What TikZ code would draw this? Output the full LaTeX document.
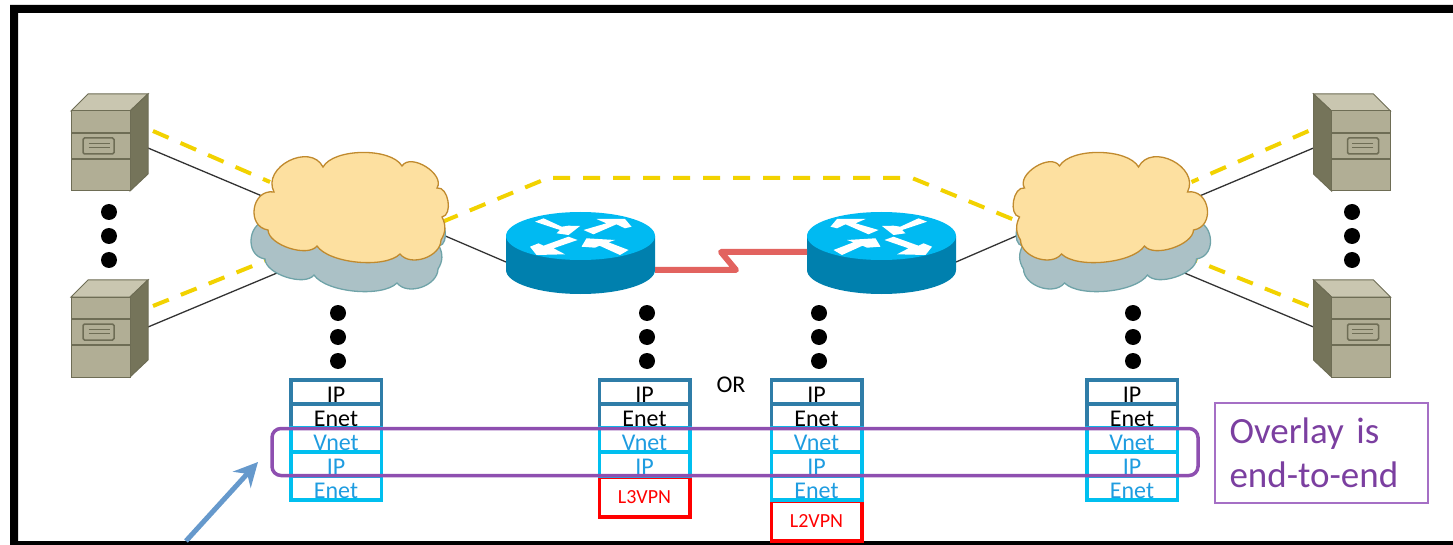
\documentclass[tikz,border=0pt]{standalone}
\usepackage{fontspec}
\setmainfont{Carlito}
\usetikzlibrary{arrows.meta,backgrounds}
\definecolor{servfront}{HTML}{B1AE95}
\definecolor{servtop}{HTML}{C9C6B0}
\definecolor{servside}{HTML}{75745A}
\definecolor{servline}{HTML}{6E6D55}
\definecolor{routertop}{HTML}{00BAF2}
\definecolor{routerside}{HTML}{0080AE}
\definecolor{cloudfront}{HTML}{FDE0A0}
\definecolor{cloudfrontline}{HTML}{C08A2E}
\definecolor{cloudback}{HTML}{ABC1C6}
\definecolor{cloudbackline}{HTML}{6FA3A8}
\definecolor{layerdark}{HTML}{2F7DA8}
\definecolor{layerlight}{HTML}{00BFEF}
\definecolor{layertext}{HTML}{1E9CE0}
\definecolor{overlay}{HTML}{8E4FB0}
\definecolor{overlaybox}{HTML}{A56FC5}
\definecolor{overlaytext}{HTML}{7B3FA0}
\definecolor{wanlink}{HTML}{E2635F}
\definecolor{tunnel}{HTML}{F2D200}
\definecolor{pointer}{HTML}{6699CC}

% Lobed outline shared by the two layers of a cloud
\newcommand{\cloudoutline}{(-28,-40) to[lobe=60, looseness=.7] (51,-41) to[lobe=90] (86,-19) to[lobe=90] (91,10) to[lobe=30] (90,33) to[lobe=70] (49,47) to[lobe=50, looseness=.65] (-34,39) to[lobe=70, looseness=.75] (-83,23) to[lobe=90, looseness=1.5] (-77,-15) to[lobe=90, looseness=1.3] (-28,-40) -- cycle}

\begin{document}
\begin{tikzpicture}[
        x=1pt, y=-1pt,
        lobe/.style={bend left=#1},
        layer/.style={rectangle, draw, line width=3.5pt, minimum width=90.5pt, inner sep=0pt, text height=22pt, text depth=2pt, font=\fontsize{24}{26}\selectfont},
        outerlayer/.style={layer, draw=layerdark, text=black},
        innerlayer/.style={layer, draw=layerlight, text=layertext},
        vpnlayer/.style={rectangle, draw=red, line width=3.5pt, minimum width=90.5pt, minimum height=40pt, inner sep=0pt, text=red, font=\fontsize{20}{22}\selectfont},
        tunnel_line/.style={draw=tunnel, line width=4pt, dash pattern=on 17pt off 13pt},
        link_line/.style={draw=black!80, line width=1.3pt},
        dots/.pic={
            \fill[black] (0,0) circle (8);
            \fill[black] (0,24) circle (8);
            \fill[black] (0,48) circle (8);
        },
        server/.pic={
            \filldraw[fill=servtop, draw=servline, line width=1pt] (-38.5,17) -- (-21.5,0) -- (38.5,0) -- (20.5,17) -- cycle;
            \filldraw[fill=servside, draw=servline, line width=1pt] (20.5,17) -- (38.5,0) -- (38.5,80) -- (20.5,97) -- cycle;
            \filldraw[fill=servfront, draw=servline, line width=1pt] (-38.5,17) rectangle (20.5,97);
            \draw[servline, line width=1.5pt] (-38.5,39) -- (20.5,39) (-38.5,65) -- (20.5,65);
            \draw[servline, line width=1.5pt, rounded corners=1.5pt] (-26.5,44) rectangle (4.5,60);
            \draw[servline, line width=.8pt] (-21,49) -- (0,49) (-21,53) -- (0,53);
            \coordinate (-port_high) at (38.5,54);
            \coordinate (-port_low) at (38.5,47);
            \coordinate (-tun_high) at (43.5,37);
            \coordinate (-tun_low) at (43.5,26);
        },
        router/.pic={
            \fill[routerside] (-74.5,0) -- (-74.5,34) arc[start angle=180, end angle=360, x radius=74.5, y radius=-24] -- (74.5,0) -- cycle;
            \fill[routertop] (0,0) ellipse[x radius=74.5, y radius=24];
            \fill[white] (-45.5,-14.3) -- (-37,-17.7) -- (-18.8,-9.3) -- (-12,-10.3) -- (-.5,-10) -- (-12,-1) -- (-24,-2.7) -- (-20.5,-6) -- cycle;
            \fill[white] (3,-6) -- (13,-1.7) -- (36,-11.7) -- (44.5,-7.7) -- (51,-9.3) -- (44.5,-17) -- (16,-17) -- (26,-12.7) -- cycle;
            \fill[white] (-50.5,10.7) -- (-44,19) -- (-15.5,18.3) -- (-27,12.3) -- (-3,4) -- (-12,.7) -- (-37,9.7) -- (-42,7.3) -- cycle;
            \fill[white] (1,10.7) -- (6,2.3) -- (34.5,4) -- (28,6.3) -- (48,14) -- (39.5,19) -- (19,9.7) -- (14.5,11.7) -- cycle;
            \coordinate (-port) at (-74.5,26);
            \coordinate (-wan_low) at (74.5,34);
            \coordinate (-wan_high) at (74.5,16);
        },
        cloudpair/.pic={
            \filldraw[fill=cloudback, draw=cloudbackline, line width=1.3pt, shift={(-3,29)}] \cloudoutline;
            \filldraw[fill=cloudfront, draw=cloudfrontline, line width=1.3pt] \cloudoutline;
            \coordinate (-port_high) at (-89,-11);
            \coordinate (-port_low) at (-74,66);
            \coordinate (-port_out) at (92,28);
            \coordinate (-tun_high) at (-81,-25);
            \coordinate (-tun_low) at (-81,52);
            \coordinate (-tun_out) at (91,15);
        }
    ]
        \useasboundingbox (0,0) rectangle (1453,545);

        % Frame cut off on the right
        \fill[black] (10,5) -- (1453,5) -- (1453,13) -- (18,13) -- (18,541) -- (1453,541) -- (1453,545) -- (10,545) -- cycle;

        % Servers
        \pic (srv_tl) at (109.5,94) {server};
        \pic (srv_bl) at (109.5,280) {server};
        \pic[xscale=-1] (srv_tr) at (1352,94) {server};
        \pic[xscale=-1] (srv_br) at (1352,280) {server};

        % Clouds
        \pic (cloud_left) at (351,207) {cloudpair};
        \pic[xscale=-1] (cloud_right) at (1110.5,207) {cloudpair};

        % Routers
        \pic (rtr_left) at (580.5,236) {router};
        \pic[xscale=-1] (rtr_right) at (881.5,236) {router};

        % Connections behind the clouds
        \begin{scope}[on background layer]
            \draw[link_line] (srv_tl-port_high) -- (cloud_left-port_high);
            \draw[link_line] (srv_bl-port_low) -- (cloud_left-port_low);
            \draw[link_line] (cloud_left-port_out) -- (rtr_left-port);
            \draw[link_line] (rtr_right-port) -- (cloud_right-port_out);
            \draw[link_line] (srv_tr-port_high) -- (cloud_right-port_high);
            \draw[link_line] (srv_br-port_low) -- (cloud_right-port_low);
            \draw[tunnel_line] (srv_tl-tun_high) -- (cloud_left-tun_high);
            \draw[tunnel_line] (srv_bl-tun_low) -- (cloud_left-tun_low);
            \draw[tunnel_line] (srv_tr-tun_high) -- (cloud_right-tun_high);
            \draw[tunnel_line] (srv_br-tun_low) -- (cloud_right-tun_low);
            \draw[tunnel_line] (cloud_left-tun_out) -- (548,178) -- (912,178) -- (cloud_right-tun_out);
        \end{scope}
        \draw[draw=wanlink, line width=6pt, line join=round] (rtr_left-wan_low) -- (736,270) -- (721,252) -- (rtr_right-wan_high);

        % Dots
        \pic (dots_srv_left) at (109,212) {dots};
        \pic (dots_srv_right) at (1352,212) {dots};
        \pic (dots_stack_a) at (338,313) {dots};
        \pic (dots_stack_b) at (647,313) {dots};
        \pic (dots_stack_c) at (819,313) {dots};
        \pic (dots_stack_d) at (1133,313) {dots};

        % First stack
        \node[outerlayer] (a_ip) at (336,392) {IP};
        \node[outerlayer] (a_enet) at (336,416) {Enet};
        \node[innerlayer] (a_vnet) at (336,440) {Vnet};
        \node[innerlayer] (a_ip_in) at (336,464) {IP};
        \node[innerlayer] (a_enet_in) at (336,488) {Enet};

        % Second stack
        \node[vpnlayer] (b_vpn) at (644.5,497) {L3VPN};
        \node[outerlayer] (b_ip) at (644.5,392) {IP};
        \node[outerlayer] (b_enet) at (644.5,416) {Enet};
        \node[innerlayer] (b_vnet) at (644.5,440) {Vnet};
        \node[innerlayer] (b_ip_in) at (644.5,464) {IP};

        % Third stack
        \node[vpnlayer] (c_vpn) at (816.5,521) {L2VPN};
        \node[outerlayer] (c_ip) at (816.5,392) {IP};
        \node[outerlayer] (c_enet) at (816.5,416) {Enet};
        \node[innerlayer] (c_vnet) at (816.5,440) {Vnet};
        \node[innerlayer] (c_ip_in) at (816.5,464) {IP};
        \node[innerlayer] (c_enet_in) at (816.5,488) {Enet};

        % Fourth stack
        \node[outerlayer] (d_ip) at (1132,392) {IP};
        \node[outerlayer] (d_enet) at (1132,416) {Enet};
        \node[innerlayer] (d_vnet) at (1132,440) {Vnet};
        \node[innerlayer] (d_ip_in) at (1132,464) {IP};
        \node[innerlayer] (d_enet_in) at (1132,488) {Enet};

        \node[font=\fontsize{24}{26}\selectfont] (or_label) at (731,385) {OR};

        % Overlay marking
        \node[rectangle, draw=overlay, line width=3.5pt, rounded corners=9pt, minimum width=926pt, minimum height=47pt, inner sep=0pt] (overlay_band) at (735,452) {};
        \node[rectangle, draw=overlaybox, line width=2pt, minimum width=213pt, minimum height=100pt, inner sep=0pt, text=overlaytext, text width=183pt, align=left, font=\fontsize{37}{44}\selectfont] (overlay_note) at (1321,452.5) {Overlay is\\end-to-end};

        % Arrow running in from below the frame
        \coordinate (pointer_tail) at (186,541);
        \coordinate (pointer_tip) at (258,462);
        \draw[draw=pointer, line width=5pt, -{Stealth[length=24pt, width=24pt, inset=8pt]}] (pointer_tail) -- (pointer_tip);
    \end{tikzpicture}
\end{document}
